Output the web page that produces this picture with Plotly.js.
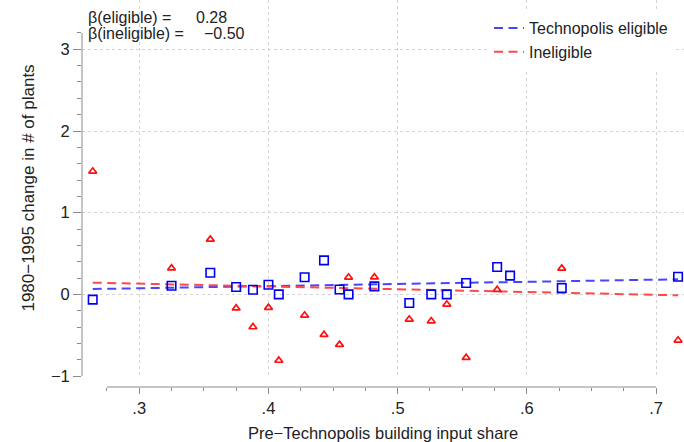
<!DOCTYPE html>
<html>
<head>
<meta charset="utf-8">
<script src="https://cdn.plot.ly/plotly-3.0.1.min.js"></script>
<style>html,body{margin:0;padding:0;background:#fff;}#chart{width:684px;height:442px;}</style>
</head>
<body>
<div id="chart"></div>
<script>
// Technopolis eligible (blue squares)
var xElig = [0.264,0.325,0.355,0.375,0.388,0.400,0.408,0.428,0.443,0.455,0.462,0.482,0.509,0.526,0.538,0.553,0.577,0.587,0.627,0.717];
var yElig = [-0.065,0.106,0.265,0.09,0.057,0.118,0.0,0.21,0.416,0.06,0.0,0.098,-0.106,0.0,0.0,0.139,0.335,0.229,0.078,0.216];
// Ineligible (red triangles)
var xInel = [0.264,0.325,0.355,0.375,0.388,0.400,0.408,0.428,0.443,0.455,0.462,0.482,0.509,0.526,0.538,0.553,0.577,0.627,0.717];
var yInel = [1.506,0.32,0.673,-0.17,-0.40,-0.163,-0.81,-0.257,-0.494,-0.616,0.208,0.21,-0.306,-0.327,-0.122,-0.776,0.057,0.318,-0.563];
// Fitted lines (endpoints)
var fitX = [0.264, 0.717];
var fitElig = [0.065, 0.184];
var fitInel = [0.143, -0.012];
// Labels
var seriesNames = ["Technopolis eligible", "Ineligible"];
var betaLabels = ["β(eligible) =", "β(ineligible) ="];
var betaValues = ["0.28", "−0.50"];
var xTickVals = [0.3, 0.4, 0.5, 0.6, 0.7];
var xTickText = [".3", ".4", ".5", ".6", ".7"];
var yTickVals = [-1, 0, 1, 2, 3];
var yTickText = ["−1", "0", "1", "2", "3"];
var yMinorTicks = [-0.8,-0.6,-0.4,-0.2,0.2,0.4,0.6,0.8,1.2,1.4,1.6,1.8,2.2,2.4,2.6,2.8,3.2];
var xTitle = "Pre−Technopolis building input share";
var yTitle = "1980−1995 change in # of plants";

var FONT = "Liberation Sans, Arial, Helvetica, sans-serif";
var BLUE = "#0000f0", RED = "#ff1010";
var BLUEL = "#4646ff", REDL = "#ff4848";

var traces = [
  {x: fitX, y: fitElig, mode: "lines", name: seriesNames[0],
   line: {color: BLUEL, width: 2, dash: "9px,5.5px"}},
  {x: fitX, y: fitInel, mode: "lines", name: seriesNames[1],
   line: {color: REDL, width: 2, dash: "9px,5.5px"}},
  {x: xElig, y: yElig, mode: "markers", showlegend: false,
   marker: {symbol: "square-open", size: 8.5, color: BLUE, line: {width: 1.6, color: BLUE}}},
  {x: xInel, y: yInel, mode: "markers", showlegend: false,
   marker: {symbol: "triangle-up-open", size: 7, color: RED, line: {width: 1.7, color: RED}}}
];

var W = 684, H = 442, ML = 82, MB = 55;
var PW = W - ML, PH = H - MB;
function px(p){ return (p - ML) / PW; }
function py(p){ return (H - MB - p) / PH; }

var layout = {
  width: W, height: H,
  margin: {l: ML, r: 0, t: 0, b: MB, pad: 0},
  paper_bgcolor: "#fff", plot_bgcolor: "#fff",
  font: {family: FONT, size: 16, color: "#222"},
  showlegend: true,
  legend: {x: px(489), xanchor: "left", y: py(11), yanchor: "top", tracegroupgap: 0,
           bgcolor: "#fff", borderwidth: 0, font: {size: 16, family: FONT, color: "#222"}},
  xaxis: {
    range: [0.2557, 0.7216], domain: [0, 1],
    anchor: "free", position: 0,
    tickmode: "array", tickvals: xTickVals, ticktext: xTickText,
    ticks: "outside", ticklen: 6, tickcolor: "#8a8a8a", tickwidth: 1,
    tickfont: {size: 16.5, family: FONT, color: "#222"},
    showline: false, zeroline: false,
    showgrid: true, gridcolor: "#d4d4d4", griddash: "dot", gridwidth: 1,
    minor: {dtick: 0.025, tick0: 0.275, ticks: "outside", ticklen: 3, tickcolor: "#8a8a8a", showgrid: false},
    title: {text: xTitle, font: {size: 16.5, family: FONT, color: "#222"}, standoff: 16}
  },
  yaxis: {
    range: [-1, 3.604], domain: [py(376), 1],
    tickmode: "array", tickvals: yTickVals, ticktext: yTickText,
    ticks: "outside", ticklen: 8, tickcolor: "#8a8a8a", tickwidth: 1,
    tickfont: {size: 16.5, family: FONT, color: "#222"},
    showline: false, zeroline: false,
    showgrid: true, gridcolor: "#d4d4d4", griddash: "dot", gridwidth: 1,
    minor: {tickmode: "array", tickvals: yMinorTicks, ticks: "outside", ticklen: 4, tickcolor: "#8a8a8a", showgrid: false},
    title: {text: yTitle, font: {size: 17, family: FONT, color: "#222"}, standoff: 11}
  },
  shapes: [
    {type: "line", xref: "x", yref: "paper", x0: 0.275, x1: 0.7, y0: 0, y1: 0,
     line: {color: "#8a8a8a", width: 1}},
    {type: "line", xref: "paper", yref: "y", x0: 0, x1: 0, y0: -1, y1: 3.2,
     line: {color: "#8a8a8a", width: 1}}
  ],
  annotations: [
    {xref: "paper", yref: "paper", x: px(86), y: py(17), xanchor: "left", yanchor: "middle",
     text: betaLabels[0], showarrow: false, font: {size: 16, family: FONT, color: "#222"}},
    {xref: "paper", yref: "paper", x: px(194), y: py(17), xanchor: "left", yanchor: "middle",
     text: betaValues[0], showarrow: false, font: {size: 16, family: FONT, color: "#222"}},
    {xref: "paper", yref: "paper", x: px(86), y: py(33), xanchor: "left", yanchor: "middle",
     text: betaLabels[1], showarrow: false, font: {size: 16, family: FONT, color: "#222"}},
    {xref: "paper", yref: "paper", x: px(202), y: py(33), xanchor: "left", yanchor: "middle",
     text: betaValues[1], showarrow: false, font: {size: 16, family: FONT, color: "#222"}}
  ]
};

Plotly.newPlot("chart", traces, layout, {displayModeBar: false, staticPlot: true});
</script>
</body>
</html>
